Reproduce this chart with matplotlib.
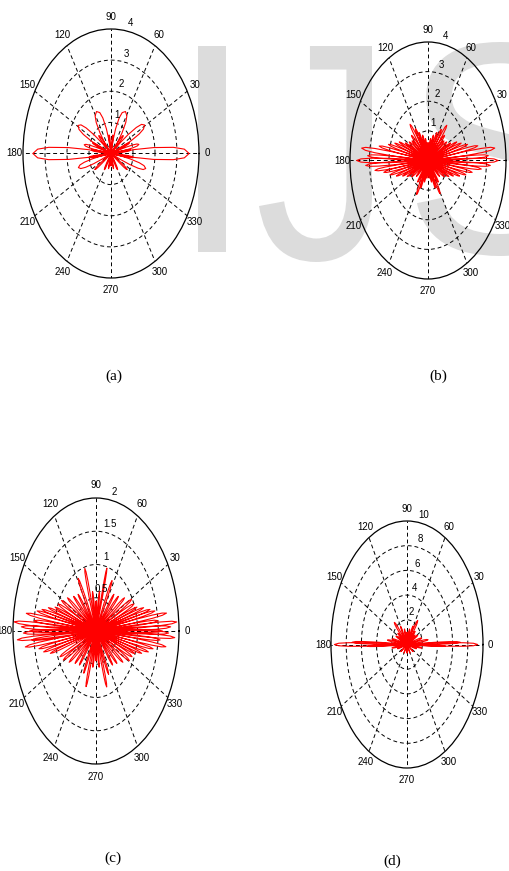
import numpy as np
import matplotlib
matplotlib.use("Agg")
import matplotlib.pyplot as plt
from matplotlib import font_manager
from matplotlib.textpath import TextPath
from matplotlib.font_manager import FontProperties
from matplotlib.patches import PathPatch
from matplotlib.transforms import Affine2D

## Lobes: direction (deg), peak radius, half width (deg)

a_deg = [0, 180, 64, 116, 31, 149, 13, 167, 343, 197, 82, 98, 46, 134, 22, 158,
         353, 187, 325, 215, 300, 240, 270, 257, 283, 7, 173]
a_r = [3.55, 3.55, 1.5, 1.5, 1.78, 1.75, 1.3, 1.25, 1.65, 1.55, 0.6, 0.6, 0.8, 0.8, 0.9, 0.9,
       1.0, 1.0, 0.9, 0.9, 0.6, 0.6, 0.4, 0.5, 0.5, 0.9, 0.9]
a_w = [8, 8, 16, 16, 10, 10, 5, 5, 8, 8, 5, 5, 5, 5, 4, 4,
       4, 4, 4, 4, 5, 5, 5, 4, 4, 4, 4]

b_deg = [0, 7, 354, 3, 357, 11, 350, 15, 346, 19, 342, 23, 338, 27, 333,
         51, 57, 45, 64, 72, 80, 87, 33, 39,
         299, 292, 306, 284, 276, 318, 327,
         180, 173, 187, 177, 183, 169, 190, 165, 194, 161, 198, 157, 202, 153, 207,
         127, 121, 135, 116, 108, 100, 93, 147, 141,
         243, 248, 234, 256, 264, 222, 213]
b_r = [3.6, 3.45, 2.75, 3.1, 3.2, 2.6, 2.3, 2.1, 2.0, 1.8, 1.7, 1.6, 1.4, 1.3, 1.2,
       1.53, 1.25, 1.2, 1.05, 0.9, 0.75, 0.6, 1.15, 1.05,
       1.28, 1.0, 0.9, 0.75, 0.6, 0.8, 1.0,
       3.66, 3.43, 2.74, 3.1, 3.2, 2.55, 2.3, 2.1, 2.0, 1.8, 1.7, 1.6, 1.4, 1.3, 1.2,
       1.53, 1.25, 1.2, 1.05, 0.9, 0.75, 0.6, 1.15, 1.05,
       1.29, 1.0, 0.9, 0.75, 0.6, 0.8, 1.0]
b_w = [3, 3, 2.5, 2.5, 2.5, 2.5, 2.5, 2.5, 2.5, 2.5, 2.5, 2.5, 2.5, 2.5, 2.5,
       4, 4, 4, 4, 4, 4, 4, 4, 4,
       4, 4, 4, 4, 4, 4, 4,
       3, 3, 2.5, 2.5, 2.5, 2.5, 2.5, 2.5, 2.5, 2.5, 2.5, 2.5, 2.5, 2.5, 2.5,
       4, 4, 4, 4, 4, 4, 4, 4, 4,
       4, 4, 4, 4, 4, 4, 4]

c_deg = [4, 357, 9, 352, 0, 6, 355, 12, 349, 14, 346, 17, 343, 20, 340, 2, 359,
         176, 184, 171, 188, 180, 174, 185, 168, 191, 166, 194, 163, 197, 160, 178, 181,
         74.5, 106, 63, 118.5, 254, 287, 245, 295, 82, 98, 262, 278, 90, 270,
         29, 151, 209, 331, 36, 144, 216, 324, 44, 136, 224, 316, 52, 128, 232, 308,
         24, 156, 204, 336]
c_r = [1.95, 1.9, 1.72, 1.7, 1.6, 1.5, 1.55, 1.45, 1.4, 1.34, 1.3, 1.2, 1.15, 1.05, 1.0, 1.8, 1.75,
       1.98, 1.9, 1.7, 1.72, 1.6, 1.5, 1.55, 1.45, 1.4, 1.34, 1.3, 1.2, 1.15, 1.05, 1.8, 1.75,
       0.98, 0.98, 0.85, 0.9, 0.87, 0.88, 0.7, 0.72, 0.6, 0.6, 0.55, 0.55, 0.45, 0.45,
       0.98, 0.95, 0.9, 0.92, 0.85, 0.85, 0.8, 0.8, 0.75, 0.75, 0.7, 0.7, 0.7, 0.7, 0.65, 0.65,
       1.0, 1.0, 0.95, 0.95]
c_w = [2] * 34 + [3, 3, 3, 3, 3, 3, 3, 3, 3, 3, 3, 3, 3, 3] + [3] * 20

d_deg = [0, 180, 1.5, 178.5, 358.5, 181.5, 54, 133, 62, 120, 45, 143, 28, 155, 15, 167,
         8, 172, 75, 105, 90, 345, 195, 325, 215, 300, 240, 270, 352, 188, 36, 152]
d_r = [9.3, 9.55, 7.0, 7.2, 5.0, 5.2, 2.4, 2.45, 1.7, 1.7, 1.5, 1.5, 1.6, 1.6, 2.0, 2.0,
       2.8, 2.6, 1.3, 1.3, 1.0, 1.3, 1.3, 1.0, 1.0, 0.8, 0.8, 0.7, 2.0, 2.0, 1.3, 1.3]
d_w = [2.2, 2.2, 1.8, 1.8, 1.5, 1.5, 5, 5, 4, 4, 4, 4, 4, 4, 4, 4,
       3, 3, 4, 4, 4, 4, 4, 4, 4, 4, 4, 4, 3, 3, 4, 4]

a_rings = [1, 2, 3, 4]
b_rings = [1, 2, 3, 4]
c_rings = [0.5, 1, 1.5, 2]
d_rings = [2, 4, 6, 8, 10]
a_ring_labels = ["1", "2", "3", "4"]
b_ring_labels = ["1", "2", "3", "4"]
c_ring_labels = ["0.5", "1", "1.5", "2"]
d_ring_labels = ["2", "4", "6", "8", "10"]

angle_ticks = list(range(0, 360, 30))
captions = ["(a)", "(b)", "(c)", "(d)"]

# petal outline used for every lobe
PETAL_T = np.array([-1, -0.85, -0.7, -0.5, -0.3, 0, 0.3, 0.5, 0.7, 0.85, 1])
PETAL_R = np.array([0, 0.3, 0.55, 0.8, 0.94, 1, 0.94, 0.8, 0.55, 0.3, 0])

installed = {f.name for f in font_manager.fontManager.ttflist}
label_font = ["Liberation Sans Narrow"] if "Liberation Sans Narrow" in installed else ["Liberation Sans"]
label_font = label_font + ["DejaVu Sans"]

W, H = 510, 871
fig = plt.figure(figsize=(W / 100, H / 100), dpi=100)

## watermark letters, fitted to their boxes (pixels from top-left)
wm_letters = ["I", "J", "S"]
wm_boxes = [(198, 226, 46, 252), (259, 372, 46, 262), (417, 580, 42, 256)]
wm_prop = FontProperties(family="Liberation Sans")
for ch, (x0, x1, y0, y1) in zip(wm_letters, wm_boxes):
    tp = TextPath((0, 0), ch, size=100, prop=wm_prop)
    ext = tp.get_extents()
    tr = (Affine2D().translate(-ext.x0, -ext.y0)
          .scale((x1 - x0) / ext.width, (y1 - y0) / ext.height)
          .translate(x0, H - y1))
    patch = PathPatch(tp, facecolor="#dcdcdc", edgecolor="none", transform=tr, zorder=-10)
    fig.add_artist(patch)


def lobe_curve(deg, r, w):
    order = np.argsort(deg)
    th, rr = [], []
    for i in order:
        th.extend(np.deg2rad(deg[i] + PETAL_T * w[i]))
        rr.extend(PETAL_R * r[i])
    return np.array(th), np.array(rr)


def polar_panel(box, deg, r, w, rings, ring_labels):
    ax = fig.add_axes(box, projection="polar")
    ax.set_aspect("auto")
    ax.patch.set_facecolor("none")
    rmax = rings[-1]
    th, rr = lobe_curve(deg, r, w)
    ax.plot(th, rr, color="#ff0000", linewidth=0.8)
    ax.set_thetagrids(angle_ticks, labels=[""] * len(angle_ticks))
    ax.set_rgrids(rings[:-1], labels=[""] * (len(rings) - 1))
    ax.set_ylim(0, rmax)
    ax.grid(True, color="k", linestyle=(0, (4, 3)), linewidth=0.7)
    ax.spines["polar"].set_color("k")
    ax.spines["polar"].set_linewidth(0.9)
    ax.tick_params(length=0, pad=0)
    for a in angle_ticks:
        ax.text(np.deg2rad(a), 1.1 * rmax, str(a), ha="center", va="center",
                fontsize=7, family=label_font)
    for rg, lab in zip(rings, ring_labels):
        ax.text(np.deg2rad(78), rg + 0.07 * rmax, lab, ha="center", va="center",
                fontsize=7, family=label_font)
    return ax


polar_panel([23 / W, 1 - 278 / H, 176 / W, 249 / H], a_deg, a_r, a_w, a_rings, a_ring_labels)
polar_panel([350 / W, 1 - 279 / H, 156 / W, 237 / H], b_deg, b_r, b_w, b_rings, b_ring_labels)
polar_panel([13 / W, 1 - 764 / H, 166 / W, 266 / H], c_deg, c_r, c_w, c_rings, c_ring_labels)
polar_panel([331 / W, 1 - 768 / H, 152 / W, 247 / H], d_deg, d_r, d_w, d_rings, d_ring_labels)

cap_pos = [(114, 376), (438, 376), (113, 858), (392, 861)]
for (x, y), cap in zip(cap_pos, captions):
    fig.text(x / W, 1 - y / H, cap, ha="center", va="center", fontsize=11,
             family=["Liberation Serif", "DejaVu Serif"])

fig.savefig("out.png", dpi=100, facecolor="white")
